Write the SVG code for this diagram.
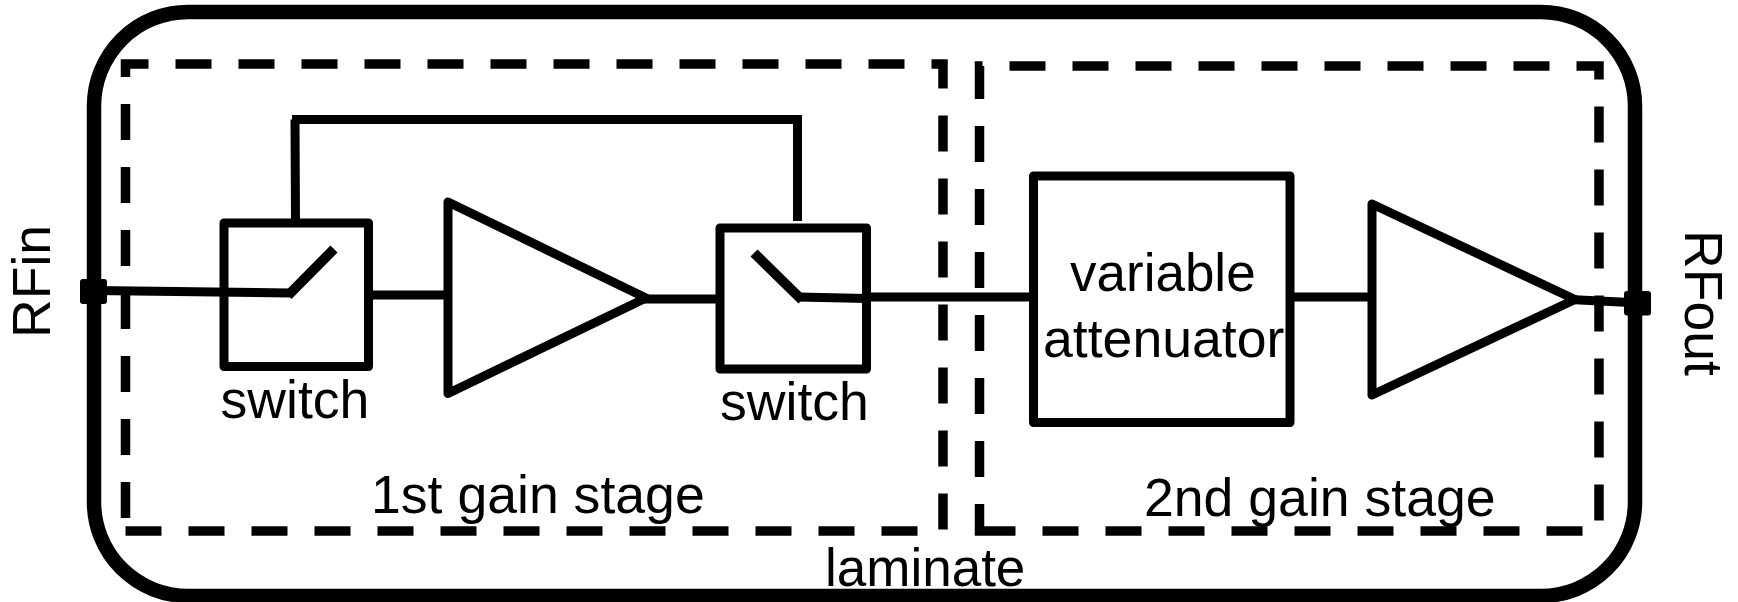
<svg xmlns="http://www.w3.org/2000/svg" width="1738" height="602" viewBox="0 0 1738 602">
<style>
text{font-family:"Liberation Sans",Arial,sans-serif;font-size:53.6px;fill:#000}
.box{fill:none;stroke:#000;stroke-width:9;stroke-linejoin:round}
.wire{fill:none;stroke:#000;stroke-width:9}
.blade{fill:none;stroke:#000;stroke-width:10}
.dash{fill:none;stroke:#000;stroke-width:9.5;stroke-dasharray:36 27}
.port{fill:#000;stroke:none}
</style>
<rect width="1738" height="602" fill="#fff"/>
<g id="laminate">
<rect x="94" y="12" width="1541" height="584" rx="94" ry="94" fill="none" stroke="#000" stroke-width="14.5"/>
<text x="825" y="586" style="font-size:53px">laminate</text>
</g>
<g id="stage1">
<path class="dash" d="M125.5 531H943V64H125.5Z"/>
<text x="371" y="513" style="font-size:53.6px">1st gain stage</text>
</g>
<g id="stage2">
<path class="dash" d="M979.5 531H1599V66H979.5Z"/>
<text x="1144" y="516" style="font-size:53.6px">2nd gain stage</text>
</g>
<g id="connectors">
<path class="wire" d="M94 290.5L290 293"/>
<path class="blade" d="M288 295.5L334 249"/>
<path class="wire" d="M369 295H448"/>
<path class="wire" d="M640 299H720"/>
<path class="wire" d="M295.5 223L295 119.5H292M295 119.5H797.5V221M797.5 119.5H802"/>
<path class="blade" d="M754 253L802 300"/>
<path class="wire" d="M798 297L867 298.5"/>
<path class="wire" d="M867 297H1033"/>
<path class="wire" d="M1290 297H1372"/>
<path class="wire" d="M1570 299.5L1640 303"/>
</g>
<g id="RFin-port">
<rect class="port" x="80" y="279" width="27" height="25" rx="3"/>
<text transform="translate(50 338) rotate(-90)">RFin</text>
</g>
<g id="RFout-port">
<rect class="port" x="1624" y="291" width="27" height="24.5" rx="3"/>
<text transform="translate(1684.5 230) rotate(90)">RFout</text>
</g>
<g id="switch1">
<rect class="box" x="224" y="223" width="144.5" height="143.5"/>
<text x="220.5" y="418">switch</text>
</g>
<g id="amp1">
<path class="box" d="M448 202L646 298L448 393.5Z"/>
</g>
<g id="switch2">
<rect class="box" x="720" y="228" width="146.5" height="141"/>
<text x="720" y="420">switch</text>
</g>
<g id="attenuator">
<rect class="box" x="1033.5" y="176" width="256.5" height="246.5"/>
<text x="1070" y="291" style="font-size:53px">variable</text>
<text x="1043" y="357">attenuator</text>
</g>
<g id="amp2">
<path class="box" d="M1372 204L1575 299.5L1372 395Z"/>
</g>
</svg>
